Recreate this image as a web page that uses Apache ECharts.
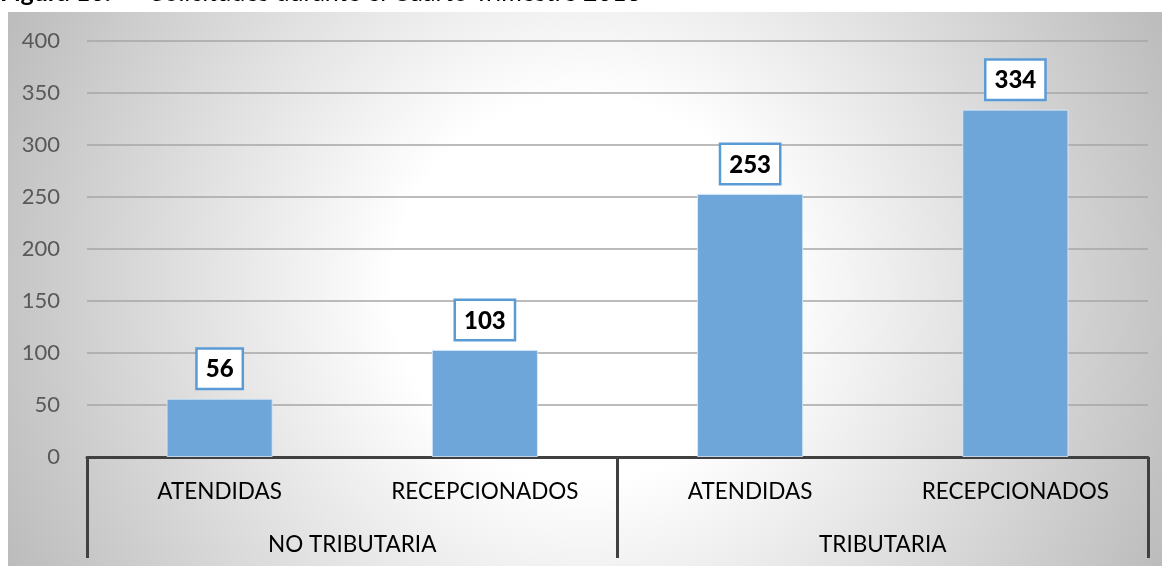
<!DOCTYPE html>
<html>
<head>
<meta charset="utf-8">
<script src="https://cdn.jsdelivr.net/npm/echarts@6/dist/echarts.min.js"></script>
<style>
html,body{margin:0;padding:0;background:#ffffff;}
#chart{width:1170px;height:566px;}
</style>
</head>
<body>
<div id="chart"></div>
<script>
const categories = ['ATENDIDAS', 'RECEPCIONADOS', 'ATENDIDAS', 'RECEPCIONADOS'];
const groups = ['NO TRIBUTARIA', 'TRIBUTARIA'];
const values = [56, 103, 253, 334];
const yTicks = [0, 50, 100, 150, 200, 250, 300, 350, 400];

const FONT = 'Lato, "Open Sans", sans-serif';
const chart = echarts.init(document.getElementById('chart'));
chart.setOption({
  animation: false,
  graphic: [
    {
      type: 'rect', z: -10, silent: true,
      shape: { x: 8, y: 12, width: 1154, height: 554 },
      style: {
        fill: new echarts.graphic.RadialGradient(0.5, 0.5, 1.15, [
          { offset: 0, color: '#ffffff' },
          { offset: 0.3, color: '#ffffff' },
          { offset: 1, color: '#bcbcbc' }
        ])
      }
    },
    {
      type: 'text', left: 0, top: -20, silent: true,
      style: {
        text: '{b|Figura 10.}  –  Solicitudes durante el Cuarto Trimestre 2018',
        font: '25px ' + FONT, fill: '#000',
        rich: { b: { fontWeight: 'bold', fontSize: 25, fontFamily: FONT } }
      }
    }
  ],
  grid: { left: 87, right: 22, top: 41, bottom: 109, containLabel: false },
  xAxis: [
    {
      type: 'category', data: categories, position: 'bottom',
      axisLine: { show: true, lineStyle: { color: '#404040', width: 3 } },
      axisTick: { show: false },
      axisLabel: { interval: 0, margin: 23, fontSize: 22.5, color: '#000', fontFamily: FONT }
    },
    {
      type: 'category', data: groups, position: 'bottom', gridIndex: 0,
      axisLine: { show: false },
      axisTick: { show: true, length: 101, interval: 0, lineStyle: { color: '#404040', width: 3 } },
      axisLabel: { interval: 0, margin: 76, fontSize: 22.5, color: '#000', fontFamily: FONT }
    }
  ],
  yAxis: {
    type: 'value', min: 0, max: 400, interval: 50,
    axisLine: { show: false }, axisTick: { show: false },
    axisLabel: { margin: 27, fontSize: 22, color: '#595959', fontFamily: FONT,
      formatter: v => yTicks.includes(v) ? String(v) : '' },
    splitLine: { lineStyle: { color: '#a6a6a6', width: 1.5 } }
  },
  series: [{
    type: 'bar', xAxisIndex: 0, data: values, barWidth: '40%',
    itemStyle: { color: '#6fa6d9', borderColor: 'rgba(220,235,250,0.8)', borderWidth: 1 },
    label: {
      show: true, position: 'top', distance: 11,
      fontSize: 24, fontWeight: 900, color: '#000', fontFamily: FONT,
      backgroundColor: '#ffffff', borderColor: '#5b9bd5', borderWidth: 2.5,
      padding: [8, 8, 6, 8]
    }
  }]
});
</script>
</body>
</html>
